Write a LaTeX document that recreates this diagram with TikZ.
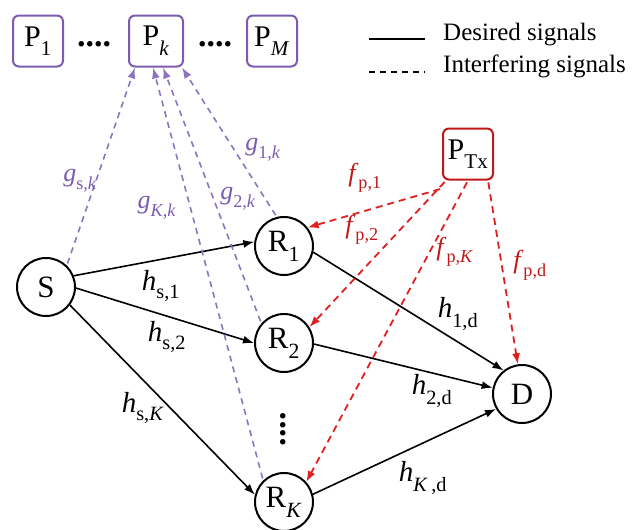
\documentclass[tikz,border=0pt]{standalone}
\usepackage{fontspec}
\setmainfont{Liberation Serif}
\usetikzlibrary{arrows.meta}
\definecolor{pur}{HTML}{7B5CB0}
\definecolor{purl}{HTML}{8C74C0}
\definecolor{redb}{HTML}{C01818}
\definecolor{redl}{HTML}{E02020}
\newcommand{\sbs}[1]{\raisebox{-0.14em}{\textsubscript{#1}}}
\newcommand{\lbl}[2]{\textit{#1}\sbs{#2}}
\begin{document}
\begin{tikzpicture}[x=1pt,y=-1pt,
  circ/.style={circle,draw,line width=2pt,minimum size=58pt,inner sep=0pt,font=\fontsize{31}{33}\selectfont},
  pbox/.style={draw=pur,rounded corners=6pt,line width=2pt,minimum width=50pt,minimum height=51pt,inner sep=0pt,font=\fontsize{30}{32}\selectfont},
  tbox/.style={pbox,draw=redb},
  des/.style={line width=1.6pt,-{Latex[length=11pt,width=8pt]}},
  intp/.style={purl,line width=1.6pt,dash pattern=on 6pt off 5pt,-{Latex[length=11pt,width=8pt]},shorten <=2pt},
  intr/.style={redl,line width=1.8pt,dash pattern=on 7pt off 5pt,-{Latex[length=11pt,width=8pt]},shorten <=2pt},
  hl/.style={font=\fontsize{29}{31}\selectfont},
  gl/.style={pur,font=\fontsize{26}{28}\selectfont},
  fl/.style={redb,font=\fontsize{26}{28}\selectfont},
  lg/.style={font=\fontsize{25}{27}\selectfont,anchor=base west,inner sep=0pt},
  dots/.style={font=\fontsize{34}{36}\selectfont\bfseries,inner sep=0pt}
]
\useasboundingbox (0,0) rectangle (643,530);
% top boxes
\node[pbox] (P1) at (38,41) {P\sbs{1}};
\node[pbox,minimum width=54pt] (Pk) at (156,41) {P\sbs{\textit{k}}};
\node[pbox] (PM) at (272,41) {P\sbs{\textit{M}}};
\node[dots,anchor=base] (d1) at (94,46) {....};
\node[dots,anchor=base] (d2) at (215,46) {....};
% legend
\coordinate (l1a) at (369,39); \coordinate (l1b) at (425,39);
\coordinate (l2a) at (369,72); \coordinate (l2b) at (425,72);
\draw[line width=1.5pt] (l1a) -- (l1b);
\draw[line width=1.5pt,dash pattern=on 6pt off 5pt] (l2a) -- (l2b);
\node[lg] (t1) at (443,40) {Desired signals};
\node[lg] (t2) at (443,72) {Interfering signals};
% main nodes
\node[circ] (S) at (46,287) {S};
\node[circ] (R1) at (284,246) {R\sbs{1}};
\node[circ] (R2) at (284,343) {R\sbs{2}};
\node[circ] (RK) at (284,502) {R\sbs{\textit{K}}};
\node[circ] (D) at (522,394) {D};
\node[tbox] (PTx) at (468,154) {P\sbs{Tx}};
\node[dots] (vd) at (283,429) {\rotatebox{90}{....}};
% desired
\draw[des] (S.22) -- (R1.172);
\draw[des] (S.-2) -- (R2.180);
\draw[des] (S.-37) -- (RK.166);
\draw[des] (R1.-12) -- (D.128);
\draw[des] (R2.-2) -- (D.168);
\draw[des] (RK.15) -- (D.210);
% interference to Pk
\draw[intp] (S.46) -- ([xshift=-21pt]Pk.south);
\draw[intp] (RK.134) -- ([xshift=-3pt]Pk.south);
\draw[intp] (R2.139) -- ([xshift=7pt]Pk.south);
\draw[intp] (R1.104) -- ([xshift=26pt]Pk.south);
% interference from PTx
\draw[intr] ([yshift=-8pt]PTx.south west) -- (R1.38);
\draw[intr] ([xshift=4pt]PTx.south west) -- (R2.32);
\draw[intr] (PTx.south) -- (RK.42);
\draw[intr] ([xshift=-6pt]PTx.south east) -- (D.98);
% labels
\node[gl] (gs) at (80,181) {\lbl{g}{s,\textit{k}}};
\node[gl] (gK) at (157,208) {\lbl{g}{\textit{K},\textit{k}}};
\node[gl] (g2) at (238,199) {\lbl{g}{2,\textit{k}}};
\node[gl] (g1) at (263,150) {\lbl{g}{1,\textit{k}}};
\node[hl] (hs1) at (161,286) {\lbl{h}{s,1}};
\node[hl] (hs2) at (167,337) {\lbl{h}{s,2}};
\node[hl] (hsK) at (143,408) {\lbl{h}{s,\textit{K}}};
\node[hl] (h1d) at (458,314) {\lbl{h}{1,d}};
\node[hl] (h2d) at (432,391) {\lbl{h}{2,d}};
\node[hl] (hKd) at (423,478) {\lbl{h}{\textit{K}\,,d}};
\node[fl] (f1) at (365,178) {\lbl{f}{p,1}};
\node[fl] (f2) at (362,230) {\lbl{f}{p,2}};
\node[fl] (fK) at (455,252) {\lbl{f}{p,\textit{K}}};
\node[fl] (fd) at (530,265) {\lbl{f}{p,d}};
\end{tikzpicture}
\end{document}
